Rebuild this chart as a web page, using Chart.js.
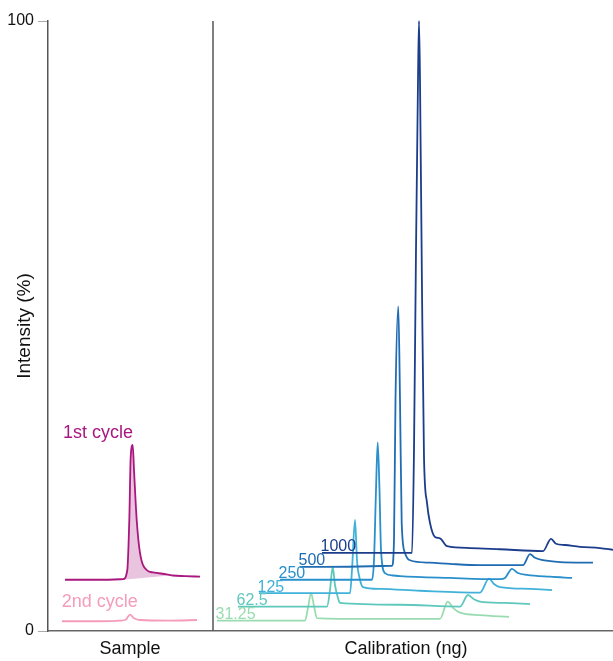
<!DOCTYPE html>
<html>
<head>
<meta charset="utf-8">
<script src="https://cdn.jsdelivr.net/npm/chart.js@4.4.1/dist/chart.umd.min.js"></script>
<style>
    html, body { margin: 0; padding: 0; background: #fff; }
    #wrap { width: 613px; height: 661px; }
</style>
</head>
<body>
<div id="wrap"><canvas id="chromChart" width="613" height="661"></canvas></div>
<script>
'use strict';

// x = retention (arbitrary units), y = intensity (%)
var sample1stX = [17, 52, 75, 79.3, 81.3, 82.7, 84.7, 86, 88.7, 92, 98.7, 105, 118.7, 125, 137, 152];
var sample1stY = [8.4, 8.4, 8.5, 10.0, 18.2, 28.5, 30.5, 26.4, 18.2, 12.8, 10.0, 9.6, 9.3, 9.1, 9.0, 8.9];
var sample1stBaseX = [75, 127];
var sample1stBaseY = [8.4, 9.2];

var sample2ndX = [14, 52, 72, 78, 82, 86, 92, 122, 149];
var sample2ndY = [1.6, 1.6, 1.7, 1.9, 2.7, 2.1, 1.8, 1.7, 1.8];

var cal1000X = [274, 364, 366, 368, 370, 371, 372, 374, 376, 379, 382, 387, 392, 399, 422, 452, 495, 503, 508, 517, 532, 552, 565];
var cal1000Y = [12.8, 12.8, 29.7, 62.5, 90.3, 100, 90.3, 55.9, 28.5, 21.0, 17.7, 15.4, 15.2, 13.9, 13.6, 13.4, 13.1, 15.1, 14.3, 14.1, 13.8, 13.6, 13.3];

var cal500X = [252, 344, 346, 347.5, 350.3, 352, 353.7, 357, 362, 382, 402, 432, 475, 482, 487, 495, 512, 545];
var cal500Y = [10.5, 10.7, 14.9, 37.9, 53.2, 37.9, 17.7, 12.8, 11.6, 11.2, 11.0, 10.8, 10.8, 12.6, 12.0, 11.6, 11.3, 11.2];

var cal250X = [232, 324, 326, 328, 329.7, 331.5, 333, 337, 345, 352, 402, 452, 457, 464, 470, 479, 502, 524];
var cal250Y = [8.4, 8.4, 11.6, 23.1, 30.9, 23.1, 13.3, 9.5, 9.1, 9.0, 8.7, 8.5, 8.7, 10.2, 9.5, 9.2, 8.9, 8.7];

var cal125X = [211, 302, 304, 307, 309, 312, 315, 332, 372, 432, 441, 446, 452, 482, 504];
var cal125Y = [6.2, 6.2, 10.0, 18.2, 11.6, 8.4, 7.2, 6.9, 6.6, 6.3, 8.6, 7.7, 7.2, 6.9, 6.7];

var cal62X = [190, 279, 282, 284.7, 287, 290, 292, 352, 412, 420, 426, 432, 457, 482];
var cal62Y = [4.0, 4.0, 6.7, 10.5, 7.5, 5.4, 4.6, 4.3, 4.0, 5.9, 5.2, 4.8, 4.6, 4.4];

var cal31X = [169, 257, 260, 263, 266, 269, 292, 352, 392, 399.7, 405, 412, 432, 461];
var cal31Y = [1.7, 1.7, 3.8, 6.2, 4.1, 2.1, 2.0, 2.0, 2.0, 4.8, 3.8, 3.0, 2.6, 2.3];

var calLabels = ['1000', '500', '250', '125', '62.5', '31.25'];
var calColors = ['#1b3d8c', '#1f6cb3', '#2990cb', '#40b2da', '#5ec8bd', '#9adcb1'];

var panelSplitX = 165;
var groupTickValues = [82, 358];
var groupTickLabels = ['Sample', 'Calibration (ng)'];
var yTickValues = [0, 100];

var FONT = "'Liberation Sans', Arial, sans-serif";

function toPoints(xs, ys) {
    return xs.map(function (x, i) {
        return {x: x, y: ys[i]};
    });
}

function traceSet(label, xs, ys, color) {
    return {
        label: label,
        data: toPoints(xs, ys),
        borderColor: color,
        backgroundColor: color,
        borderWidth: 1.8,
        pointRadius: 0,
        cubicInterpolationMode: 'monotone',
        fill: false,
        clip: false
    };
}

var calSeries = [
    [cal1000X, cal1000Y], [cal500X, cal500Y], [cal250X, cal250Y],
    [cal125X, cal125Y], [cal62X, cal62Y], [cal31X, cal31Y]
];

var datasets = [
    {
        label: 'split',
        data: toPoints([panelSplitX, panelSplitX], [0, 100]),
        borderColor: '#555',
        borderWidth: 1.5,
        pointRadius: 0,
        fill: false,
        clip: false
    },
    {
        label: 'base',
        data: toPoints(sample1stBaseX, sample1stBaseY),
        borderColor: 'rgba(0,0,0,0)',
        borderWidth: 0,
        pointRadius: 0,
        fill: false
    }
];

var first = traceSet('1st cycle', sample1stX, sample1stY, '#a9177f');
first.fill = {target: 1, above: '#e9c4df', below: '#e9c4df'};
datasets.push(first);
datasets.push(traceSet('2nd cycle', sample2ndX, sample2ndY, '#f59bbb'));

calSeries.forEach(function (s, i) {
    datasets.push(traceSet(calLabels[i], s[0], s[1], calColors[i]));
});

// text labels next to the traces
var traceLabels = {
    id: 'traceLabels',
    afterDatasetsDraw: function (chart) {
        var ctx = chart.ctx;
        var xs = chart.scales.x;
        var ys = chart.scales.y;
        ctx.save();
        ctx.textAlign = 'left';
        ctx.textBaseline = 'alphabetic';

        ctx.font = '18px ' + FONT;
        ctx.fillStyle = '#a9177f';
        ctx.fillText('1st cycle', xs.getPixelForValue(15), ys.getPixelForValue(31.6));
        ctx.fillStyle = '#f59bbb';
        ctx.fillText('2nd cycle', xs.getPixelForValue(13.7), ys.getPixelForValue(3.9));

        ctx.font = '16px ' + FONT;
        calSeries.forEach(function (s, i) {
            ctx.fillStyle = calColors[i];
            ctx.fillText(calLabels[i], xs.getPixelForValue(s[0][0]) - 1.5, ys.getPixelForValue(s[1][0]) - 1.5);
        });
        ctx.restore();
    }
};

var chart = new Chart(document.getElementById('chromChart').getContext('2d'), {
    type: 'line',
    data: {datasets: datasets},
    options: {
        responsive: false,
        animation: false,
        events: [],
        layout: {padding: {top: 21, left: 0, right: 0, bottom: 0}},
        plugins: {
            legend: {display: false},
            tooltip: {enabled: false}
        },
        scales: {
            x: {
                type: 'linear',
                min: 0,
                max: 565,
                afterBuildTicks: function (axis) {
                    axis.ticks = groupTickValues.map(function (v) {
                        return {value: v};
                    });
                },
                afterFit: function (scale) {
                    scale.height = 30;
                },
                grid: {display: false, drawTicks: false},
                border: {display: true, color: '#666', width: 1.5},
                ticks: {
                    autoSkip: false,
                    maxRotation: 0,
                    padding: 7,
                    color: '#111',
                    font: {family: FONT, size: 18},
                    callback: function (value) {
                        var i = groupTickValues.indexOf(value);
                        return i >= 0 ? groupTickLabels[i] : '';
                    }
                }
            },
            y: {
                type: 'linear',
                min: 0,
                max: 100,
                afterBuildTicks: function (axis) {
                    axis.ticks = yTickValues.map(function (v) {
                        return {value: v};
                    });
                },
                afterFit: function (scale) {
                    scale.width = 48;
                },
                grid: {
                    display: true,
                    drawOnChartArea: false,
                    drawTicks: true,
                    tickLength: 10,
                    tickColor: '#aaa',
                    tickWidth: 1
                },
                border: {display: true, color: '#555', width: 1.5},
                ticks: {
                    padding: 4,
                    color: '#111',
                    font: {family: FONT, size: 16}
                },
                title: {
                    display: true,
                    text: 'Intensity (%)',
                    color: '#111',
                    padding: {top: 13, bottom: 0},
                    font: {family: FONT, size: 19}
                }
            }
        }
    },
    plugins: [traceLabels]
});
</script>
</body>
</html>
